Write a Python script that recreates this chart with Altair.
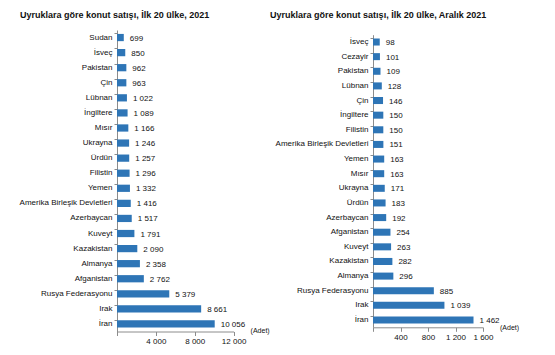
import altair as alt
import pandas as pd

left_countries = ["Sudan", "İsveç", "Pakistan", "Çin", "Lübnan", "İngiltere", "Mısır",
                  "Ukrayna", "Ürdün", "Filistin", "Yemen", "Amerika Birleşik Devletleri",
                  "Azerbaycan", "Kuveyt", "Kazakistan", "Almanya", "Afganistan",
                  "Rusya Federasyonu", "Irak", "İran"]
left_values = [699, 850, 962, 963, 1022, 1089, 1166, 1246, 1257, 1296, 1332, 1416,
               1517, 1791, 2090, 2358, 2762, 5379, 8661, 10056]
left_ticks = [0, 4000, 8000, 12000]

right_countries = ["İsveç", "Cezayir", "Pakistan", "Lübnan", "Çin", "İngiltere", "Filistin",
                   "Amerika Birleşik Devletleri", "Yemen", "Mısır", "Ukrayna", "Ürdün",
                   "Azerbaycan", "Afganistan", "Kuveyt", "Kazakistan", "Almanya",
                   "Rusya Federasyonu", "Irak", "İran"]
right_values = [98, 101, 109, 128, 146, 150, 150, 151, 163, 163, 171, 183, 192, 254,
                263, 282, 296, 885, 1039, 1462]
right_ticks = [0, 400, 800, 1200, 1600]

titles = ["Uyruklara göre konut satışı, İlk 20 ülke, 2021",
          "Uyruklara göre konut satışı, İlk 20 ülke, Aralık 2021"]
unit_label = ["(Adet)"]

FONT = "Liberation Sans"
BAR = "#2E75B6"
AX = "#8c8c8c"


def panel(cats, vals, ticks, title, w, h, top, tdx, adet_dy):
    df = pd.DataFrame({"country": cats, "value": vals})
    base = alt.Chart(df).encode(
        y=alt.Y("country:N", sort=cats,
                scale=alt.Scale(paddingInner=0.52, paddingOuter=0.26, range=[top, h]),
                axis=alt.Axis(title=None, bandPosition=0, tickSize=3, labelPadding=2,
                              labelFont=FONT, labelFontSize=8, labelColor="#111",
                              domainColor=AX, tickColor=AX)),
        x=alt.X("value:Q",
                scale=alt.Scale(domain=[ticks[0], ticks[-1]], nice=False),
                axis=alt.Axis(title=None, grid=False, values=ticks, tickSize=4,
                              labelPadding=2, labelFont=FONT, labelFontSize=8,
                              labelColor="#111", domainColor=AX, tickColor=AX,
                              labelOverlap=False, labelFlush=False,
                              labelExpr="datum.value == 0 ? '' : replace(format(datum.value, ','), ',', ' ')")),
    )
    bars = base.mark_bar(color=BAR)
    txt = base.transform_calculate(
        label="replace(format(datum.value, ','), ',', ' ')"
    ).mark_text(align="left", baseline="middle", dx=6, dy=1, font=FONT,
                fontSize=8, color="#111").encode(text="label:N")
    adet = alt.Chart(pd.DataFrame({"t": unit_label})).mark_text(
        align="left", baseline="middle", font=FONT, fontSize=7, color="#111"
    ).encode(x=alt.value(w + 17), y=alt.value(h + adet_dy), text="t:N")
    return alt.layer(bars, txt, adet).properties(
        width=w, height=h,
        title=alt.TitleParams(title, anchor="start", frame="bounds", font=FONT,
                              fontSize=9, fontWeight="bold", color="#111",
                              offset=10, dx=tdx),
    )


left = panel(left_countries, left_values, left_ticks, titles[0], 116.6, 301.5, 0, 1, -1)
right = panel(right_countries, right_values, right_ticks, titles[1], 110, 297.3, 4.7, -5, 1)

chart = alt.hconcat(left, right, spacing=0).properties(
    padding={"left": 11, "top": 3, "right": 5, "bottom": 0}
).configure(background="white", view=alt.ViewConfig(stroke=None))

chart.save("out.html", embed_options={"renderer": "svg", "actions": False})
